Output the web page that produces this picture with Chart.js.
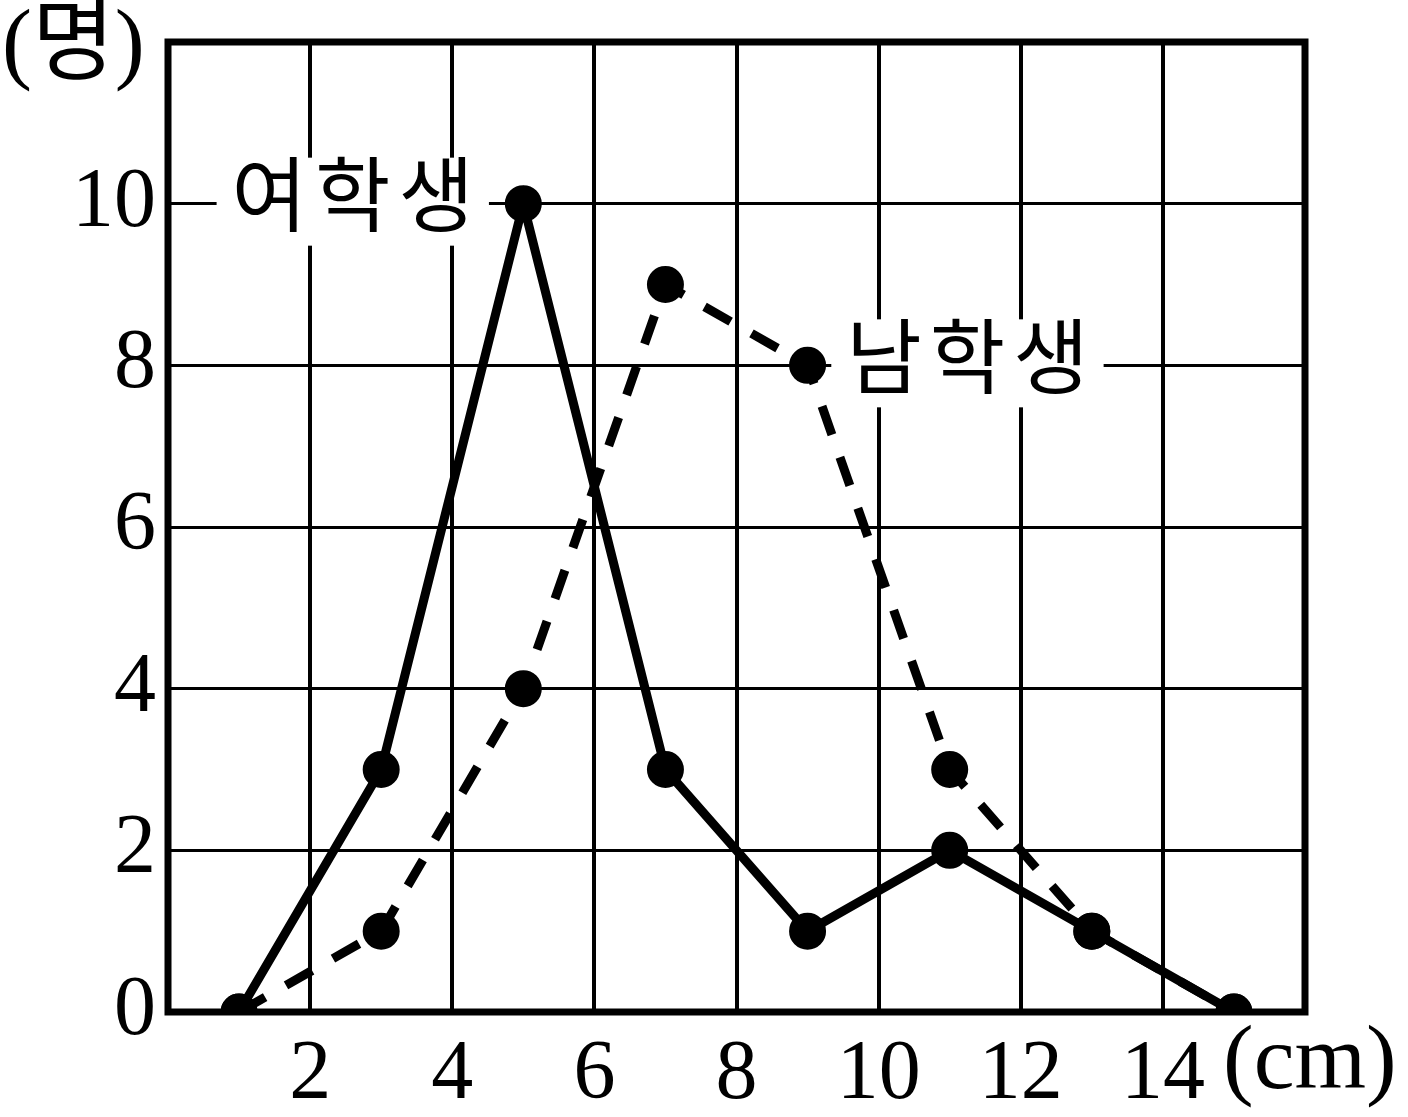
<!DOCTYPE html>
<html>
<head>
<meta charset="utf-8">
<script src="https://cdn.jsdelivr.net/npm/chart.js@4"></script>
<style>
  html, body { margin: 0; padding: 0; background: #fff; }
  #wrap { width: 1408px; height: 1117px; }
</style>
</head>
<body>
<div id="wrap"><canvas id="lenChart"></canvas></div>
<script>
// 길이 (cm) 계급값
const classMarks = [1, 3, 5, 7, 9, 11, 13, 15];
// 여학생 (실선), 남학생 (점선)
const girls = [0, 3, 10, 3, 1, 2, 1, 0];
const boys = [0, 1, 4, 9, 8, 3, 1, 0];
const xTickLabels = [2, 4, 6, 8, 10, 12, 14];
const yTickLabels = [0, 2, 4, 6, 8, 10];

const numFont = '"Liberation Serif", "DejaVu Serif", serif';
const korFont = '"Liberation Serif", "Noto Sans CJK KR", serif';

function toPoints(values) {
    return classMarks.map(function (x, i) { return { x: x, y: values[i] }; });
}

const labelPlugin = {
    id: 'labels',
    beforeDatasetsDraw: function (chart) {
        const ctx = chart.ctx;
        const a = chart.chartArea;
        const xs = chart.scales.x, ys = chart.scales.y;
        ctx.save();
        // frame
        ctx.lineWidth = 7;
        ctx.strokeStyle = '#000';
        ctx.strokeRect(a.left, a.top, a.right - a.left, a.bottom - a.top);

        // series labels with white boxes
        ctx.font = '82px ' + korFont;
        ctx.letterSpacing = '8px';
        ctx.textBaseline = 'middle';
        ctx.textAlign = 'center';
        [['여학생', 2.6, 10], ['남학생', 11.25, 8]].forEach(function (t) {
            const cx = xs.getPixelForValue(t[1]);
            const cy = ys.getPixelForValue(t[2]);
            const w = ctx.measureText(t[0]).width + 22;
            ctx.fillStyle = '#fff';
            ctx.fillRect(cx - w / 2, cy - 46, w, 88);
            ctx.fillStyle = '#000';
            ctx.fillText(t[0], cx + 4, cy);
        });
        ctx.restore();
    },
    afterDraw: function (chart) {
        const ctx = chart.ctx;
        const a = chart.chartArea;
        ctx.save();
        ctx.fillStyle = '#000';
        ctx.font = '90px ' + korFont;
        ctx.textBaseline = 'alphabetic';
        ctx.textAlign = 'left';
        ctx.fillText('(명)', 2, 72);
        ctx.font = '92px ' + numFont;
        ctx.fillText('(cm)', a.right - 82, 1088);
        ctx.restore();
    }
};

new Chart(document.getElementById('lenChart'), {
    type: 'line',
    data: {
        datasets: [{
            label: '여학생',
            data: toPoints(girls),
            borderColor: '#000',
            backgroundColor: '#000',
            borderWidth: 9,
            pointRadius: 14,
            pointHoverRadius: 14,
            tension: 0
        }, {
            label: '남학생',
            data: toPoints(boys),
            borderColor: '#000',
            backgroundColor: '#000',
            borderWidth: 9,
            borderDash: [30, 24],
            pointRadius: 14,
            pointHoverRadius: 14,
            tension: 0
        }]
    },
    options: {
        responsive: true,
        maintainAspectRatio: false,
        animation: false,
        layout: { padding: { top: 42, right: 103, left: 0, bottom: 0 } },
        plugins: {
            legend: { display: false },
            tooltip: { enabled: false }
        },
        scales: {
            x: {
                type: 'linear',
                min: 0,
                max: 16,
                afterFit: function (s) { s.height = 105; s.paddingLeft = 0; s.paddingRight = 0; },
                border: { display: false },
                grid: { color: '#000', lineWidth: 4, drawTicks: false },
                ticks: {
                    stepSize: 2,
                    padding: 14,
                    color: '#000',
                    font: { family: numFont, size: 84 },
                    callback: function (v) { return xTickLabels.includes(v) ? String(v) : ''; }
                }
            },
            y: {
                min: 0,
                max: 12,
                afterFit: function (s) { s.width = 168; s.paddingTop = 0; s.paddingBottom = 0; },
                border: { display: false },
                grid: { color: '#000', lineWidth: 3, drawTicks: false },
                ticks: {
                    stepSize: 1,
                    padding: 12,
                    color: '#000',
                    font: { family: numFont, size: 84 },
                    callback: function (v) { return yTickLabels.includes(v) ? String(v) : ''; }
                }
            }
        }
    },
    plugins: [labelPlugin]
});
</script>
</body>
</html>
